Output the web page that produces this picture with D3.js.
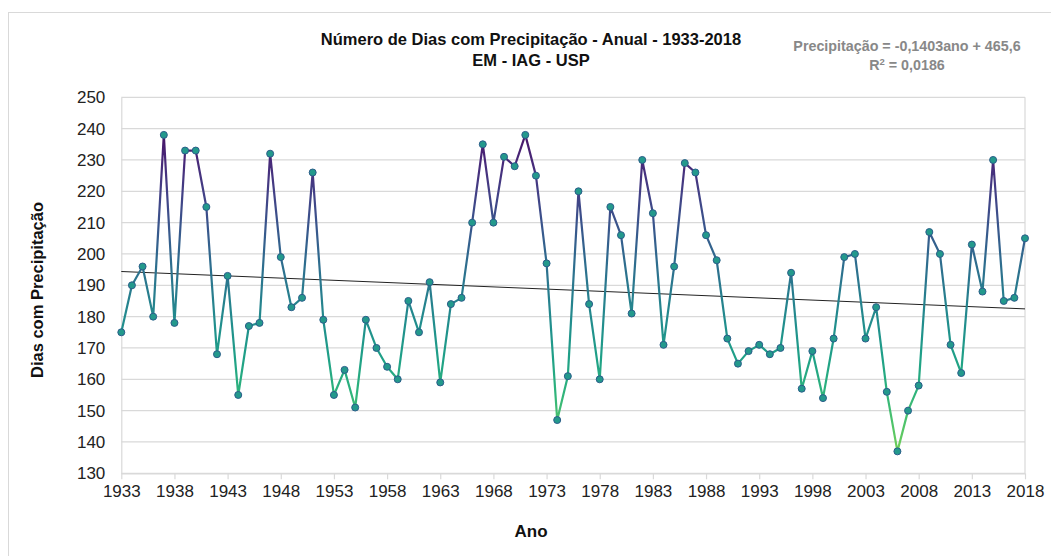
<!DOCTYPE html>
<html>
<head>
<meta charset="utf-8">
<script src="https://cdn.jsdelivr.net/npm/d3@7"></script>
<style>
	body { margin: 0; background: #fff; }
	text { font-family: "Liberation Sans", Arial, sans-serif; }
</style>
</head>
<body>
<script>
// data
var years = d3.range(1933, 2019);
var days = [
	175, 190, 196, 180, 238, 178, 233, 233, 215, 168,
	193, 155, 177, 178, 232, 199, 183, 186, 226, 179,
	155, 163, 151, 179, 170, 164, 160, 185, 175, 191,
	159, 184, 186, 210, 235, 210, 231, 228, 238, 225,
	197, 147, 161, 220, 184, 160, 215, 206, 181, 230,
	213, 171, 196, 229, 226, 206, 198, 173, 165, 169,
	171, 168, 170, 194, 157, 169, 154, 173, 199, 200,
	173, 183, 156, 137, 150, 158, 207, 200, 171, 162,
	203, 188, 230, 185, 186, 205
];
var yTicks = d3.range(130, 251, 10);
var xTicks = d3.range(1933, 2019, 5);
var trendSlope = -0.1403, trendIntercept = 465.6;

var width = 1051, height = 556;
var margin = { left: 121.3, right: 1025, top: 97.3, bottom: 473.3 };

var svg = d3.select("body")
	.append("svg")
	.attr("width", width)
	.attr("height", height);

// outer chart border
svg.append("rect")
	.attr("x", 8.5).attr("y", 12.5)
	.attr("width", 1100).attr("height", 600)
	.attr("fill", "none")
	.attr("stroke", "#d9d9d9");

var x = d3.scaleLinear().domain([1933, 2018]).range([margin.left, margin.right]);
var y = d3.scaleLinear().domain([130, 250]).range([margin.bottom, margin.top]);

// grid lines
svg.append("g")
	.selectAll("line")
	.data(yTicks)
	.enter().append("line")
	.attr("x1", margin.left).attr("x2", margin.right)
	.attr("y1", function(d) { return y(d); })
	.attr("y2", function(d) { return y(d); })
	.attr("stroke", "#d9d9d9")
	.attr("stroke-width", 1.2);

// right border of plot
svg.append("line")
	.attr("x1", margin.right).attr("x2", margin.right)
	.attr("y1", margin.top).attr("y2", margin.bottom)
	.attr("stroke", "#d9d9d9").attr("stroke-width", 1.2);

// y axis
var yAxis = svg.append("g")
	.attr("transform", "translate(" + margin.left + ",0)")
	.call(d3.axisLeft(y).tickValues(yTicks).tickSize(0).tickPadding(16));
yAxis.select(".domain").attr("stroke", "#d9d9d9").attr("stroke-width", 1.2);
yAxis.selectAll("text").attr("font-size", 17).attr("fill", "#222")
	.style("font-family", "Liberation Sans, Arial, sans-serif");

// x axis
var xAxis = svg.append("g")
	.attr("transform", "translate(0," + margin.bottom + ")")
	.call(d3.axisBottom(x).tickValues(xTicks).tickFormat(d3.format("d")).tickSize(6).tickSizeOuter(0).tickPadding(6));
xAxis.select(".domain").attr("stroke", "#d9d9d9").attr("stroke-width", 1.2);
xAxis.selectAll(".tick line").attr("stroke", "#d9d9d9").attr("stroke-width", 1.2);
xAxis.selectAll("text").attr("font-size", 17).attr("fill", "#222")
	.style("font-family", "Liberation Sans, Arial, sans-serif");

// colour gradient by value (viridis, reversed)
var grad = svg.append("defs").append("linearGradient")
	.attr("id", "lineGrad")
	.attr("gradientUnits", "userSpaceOnUse")
	.attr("x1", 0).attr("x2", 0)
	.attr("y1", y(240)).attr("y2", y(135));
var tScale = d3.scaleLinear().domain([240, 135]).range([0.04, 0.8]);
d3.range(0, 1.01, 0.1).forEach(function(o) {
	var v = 240 - o * 105;
	grad.append("stop")
		.attr("offset", o)
		.attr("stop-color", d3.interpolateViridis(tScale(v)));
});

var points = years.map(function(yr, i) { return [yr, days[i]]; });

// trend line
svg.append("line")
	.attr("x1", x(1933)).attr("x2", x(2018))
	.attr("y1", y(trendSlope * 1933 + trendIntercept))
	.attr("y2", y(trendSlope * 2018 + trendIntercept))
	.attr("stroke", "#222")
	.attr("stroke-width", 1);

svg.append("path")
	.datum(points)
	.attr("d", d3.line().x(function(d) { return x(d[0]); }).y(function(d) { return y(d[1]); }))
	.attr("fill", "none")
	.attr("stroke", "url(#lineGrad)")
	.attr("stroke-width", 2.2)
	.attr("stroke-linejoin", "round");

svg.append("g")
	.selectAll("circle")
	.data(points)
	.enter().append("circle")
	.attr("cx", function(d) { return x(d[0]); })
	.attr("cy", function(d) { return y(d[1]); })
	.attr("r", 3.5)
	.attr("fill", "#23998c")
	.attr("stroke", "#2b5d8a")
	.attr("stroke-width", 1);

// titles
svg.append("text")
	.attr("x", 531).attr("y", 45)
	.attr("text-anchor", "middle")
	.attr("font-size", 16.5).attr("font-weight", "bold").attr("fill", "#111")
	.text("Número de Dias com Precipitação - Anual - 1933-2018");
svg.append("text")
	.attr("x", 531).attr("y", 66)
	.attr("text-anchor", "middle")
	.attr("font-size", 16.5).attr("font-weight", "bold").attr("fill", "#111")
	.text("EM - IAG - USP");

// regression equation
svg.append("text")
	.attr("x", 907).attr("y", 51)
	.attr("text-anchor", "middle")
	.attr("font-size", 14.3).attr("font-weight", "bold").attr("fill", "#888")
	.text("Precipitação = -0,1403ano + 465,6");
var r2 = svg.append("text")
	.attr("x", 907).attr("y", 70)
	.attr("text-anchor", "middle")
	.attr("font-size", 14.3).attr("font-weight", "bold").attr("fill", "#888");
r2.append("tspan").text("R");
r2.append("tspan").attr("dy", -5).attr("font-size", 9.5).text("2");
r2.append("tspan").attr("dy", 5).text(" = 0,0186");

// axis titles
svg.append("text")
	.attr("transform", "translate(43,290) rotate(-90)")
	.attr("text-anchor", "middle")
	.attr("font-size", 16.5).attr("font-weight", "bold").attr("fill", "#111")
	.text("Dias com Precipitação");
svg.append("text")
	.attr("x", 531).attr("y", 537)
	.attr("text-anchor", "middle")
	.attr("font-size", 17).attr("font-weight", "bold").attr("fill", "#111")
	.text("Ano");
</script>
</body>
</html>
